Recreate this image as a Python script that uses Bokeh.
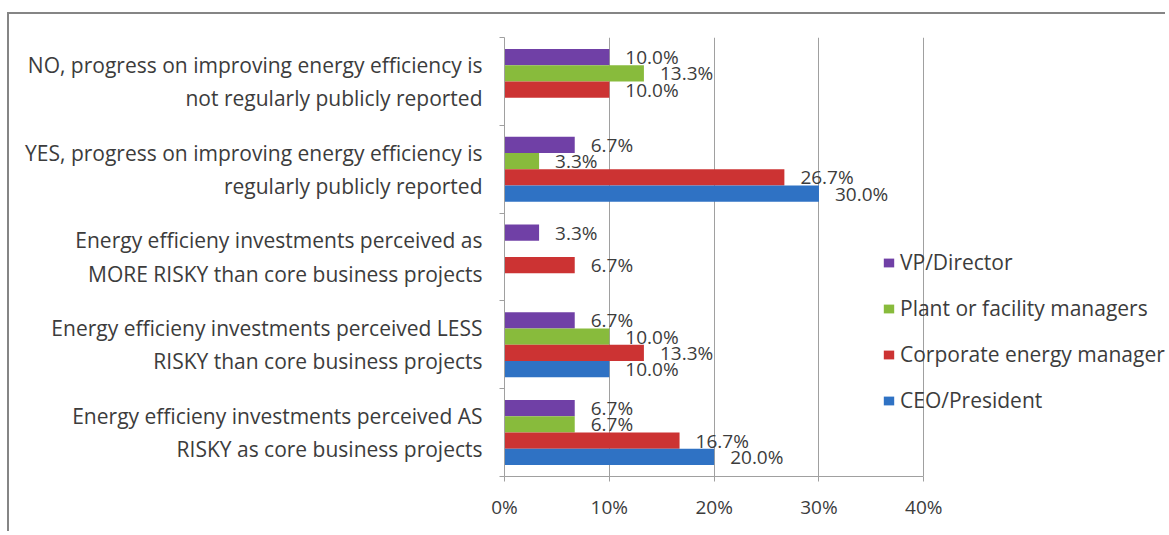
from bokeh.plotting import figure
from bokeh.models import ColumnDataSource, Range1d, FixedTicker, Legend, LegendItem
from bokeh.core.properties import value
from bokeh.embed import file_html
from bokeh.resources import INLINE

categories = [
    "NO, progress on improving energy efficiency is\nnot regularly publicly reported",
    "YES, progress on improving energy efficiency is\nregularly publicly reported",
    "Energy efficieny investments perceived as\nMORE RISKY than core business projects",
    "Energy efficieny investments perceived LESS\nRISKY than core business projects",
    "Energy efficieny investments perceived AS\nRISKY as core business projects",
]
series_names = ["VP/Director", "Plant or facility managers", "Corporate energy manager", "CEO/President"]
vp_director = [10.0, 6.7, 3.3, 6.7, 6.7]
plant_managers = [13.3, 3.3, None, 10.0, 6.7]
corporate_manager = [10.0, 26.7, 6.7, 13.3, 16.7]
ceo_president = [None, 30.0, None, 10.0, 20.0]
x_ticks = [0, 10, 20, 30, 40]

series_values = [vp_director, plant_managers, corporate_manager, ceo_president]
colors = ["#7040a6", "#88bb3c", "#cc3333", "#2f72c4"]
offsets = [0.2775, 0.0925, -0.0925, -0.2775]
bar_h = 0.185

FONT = "Open Sans"
TXT = "#3c3c3c"
GRID = "#a0a0a0"
n = len(categories)

# plot frame spans to the right edge so the legend (which overlaps the 40% line) is not clipped;
# the axis is bounded to 0..40
W, H = 1158, 519
BL, BR, BT, BB = 495, 0, 23, 57
x_max = 40 * (W - BL - BR) / 419.3

p = figure(width=W, height=H, output_backend="svg", toolbar_location=None,
           x_range=Range1d(0, x_max), y_range=Range1d(0, n),
           min_border_left=BL, min_border_right=BR, min_border_top=BT, min_border_bottom=BB)
p.styles = {"margin-left": "7px", "margin-top": "12px",
            "border-left": "2px solid #858585", "border-top": "2px solid #858585"}
p.outline_line_color = None
p.background_fill_color = "white"

centers = [n - i - 0.5 for i in range(n)]

items = []
for name, vals, col, off in zip(series_names, series_values, colors, offsets):
    ys = [c + off for c, v in zip(centers, vals) if v is not None]
    xs = [v for v in vals if v is not None]
    src = ColumnDataSource(dict(y=ys, x=xs, lab=["%.1f%%" % v for v in xs]))
    r = p.hbar(y="y", right="x", left=0, height=bar_h, source=src, fill_color=col, line_color=None)
    p.text(x="x", y="y", text="lab", source=src, x_offset=16, text_baseline="middle",
           text_align="left", text_font=value(FONT), text_font_size="19px", text_color=TXT)
    items.append(LegendItem(label=name, renderers=[r]))

legend = Legend(items=items, location=(378, 62), padding=0, margin=0,
                border_line_color=None, background_fill_alpha=0,
                glyph_width=13, glyph_height=11, label_standoff=5, label_height=28, spacing=18,
                label_text_font=FONT, label_text_font_size="21px", label_text_color=TXT)
p.add_layout(legend, "center")

# x axis
p.xaxis.ticker = FixedTicker(ticks=x_ticks)
p.xaxis.bounds = (x_ticks[0], x_ticks[-1])
p.xaxis.major_label_overrides = {t: "%d%%" % t for t in x_ticks}
p.xaxis.major_label_text_font = FONT
p.xaxis.major_label_text_font_size = "19px"
p.xaxis.major_label_text_color = TXT
p.xaxis.major_label_standoff = 12
p.xaxis.axis_line_color = GRID
p.xaxis.major_tick_line_color = GRID
p.xaxis.major_tick_out = 5
p.xaxis.major_tick_in = 0
p.xaxis.minor_tick_line_color = None

# y axis
p.yaxis.ticker = FixedTicker(ticks=centers, minor_ticks=list(range(n + 1)))
p.yaxis.major_label_overrides = {c: lab for c, lab in zip(centers, categories)}
p.yaxis.major_label_text_font = FONT
p.yaxis.major_label_text_font_size = "21px"
p.yaxis.major_label_text_color = TXT
p.yaxis.major_label_text_line_height = 1.19
p.yaxis.major_label_standoff = 17
p.yaxis.axis_line_color = GRID
p.yaxis.major_tick_line_color = None
p.yaxis.major_tick_out = 0
p.yaxis.major_tick_in = 0
p.yaxis.minor_tick_line_color = GRID
p.yaxis.minor_tick_out = 5
p.yaxis.minor_tick_in = 0

p.xgrid.grid_line_color = GRID
p.ygrid.grid_line_color = None

open("out.html", "w").write(file_html(p, INLINE))
